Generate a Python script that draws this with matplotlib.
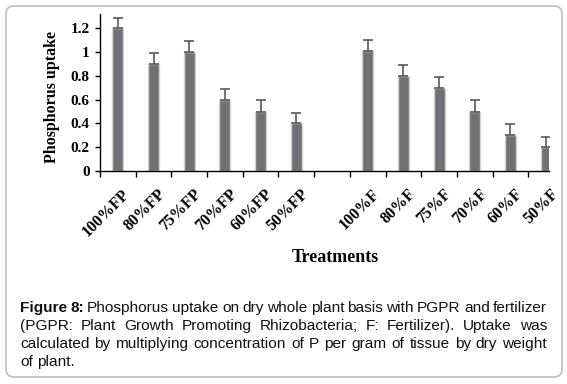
import numpy as np
import matplotlib.pyplot as plt
from matplotlib.patches import FancyBboxPatch
from matplotlib.transforms import ScaledTranslation

# values (bars + upper error bars)
fp_labels = ['100%FP', '80%FP', '75%FP', '70%FP', '60%FP', '50%FP']
fp_values = [1.2, 0.9, 1.0, 0.6, 0.5, 0.4]
fp_err = [0.09, 0.09, 0.09, 0.09, 0.095, 0.09]

f_labels = ['100%F', '80%F', '75%F', '70%F', '60%F', '50%F']
f_values = [1.01, 0.80, 0.70, 0.50, 0.30, 0.20]
f_err = [0.09, 0.09, 0.09, 0.10, 0.095, 0.09]

yticks = [0, 0.2, 0.4, 0.6, 0.8, 1.0, 1.2]
ytick_labels = ['0', '0.2', '0.4', '0.6', '0.8', '1', '1.2']

caption_lines = [
    "Phosphorus uptake on dry whole plant basis with PGPR and fertilizer",
    "(PGPR: Plant Growth Promoting Rhizobacteria; F: Fertilizer). Uptake was",
    "calculated by multiplying concentration of P per gram of tissue by dry weight",
    "of plant.",
]

W, H = 567, 384
fig = plt.figure(figsize=(W / 100, H / 100), dpi=100)
fig.patch.set_facecolor('white')

# rounded frame around the whole figure panel
frame = FancyBboxPatch((6, 7), 556, 371, boxstyle='round,pad=0,rounding_size=8',
                       transform=None, facecolor='none', edgecolor='#c4c4c4', linewidth=1.3)
fig.add_artist(frame)

ax = fig.add_axes([100 / W, 1 - 171 / H, 449 / W, 157 / H])

# FP group, one blank slot, then F group
labels = fp_labels + [''] + f_labels
values = fp_values + [np.nan] + f_values
errs = fp_err + [0] + f_err
x = np.arange(len(labels))

ax.bar(x, values, width=0.31, color='#717175', edgecolor='#d4d4d4', linewidth=1.0, zorder=2)
mask = ~np.isnan(values)
ax.errorbar(x[mask], np.array(values)[mask],
            yerr=[np.zeros(mask.sum()), np.array(errs)[mask]],
            fmt='none', ecolor='#595959', elinewidth=1.2, capsize=3.3, capthick=1.2, zorder=3)

ax.set_xlim(-0.5, 12.08)
ax.set_ylim(0, 1.32)

for s in ['top', 'right']:
    ax.spines[s].set_visible(False)
for s in ['left', 'bottom']:
    ax.spines[s].set_color('black')
    ax.spines[s].set_linewidth(1.0)

serif = 'Liberation Serif'
ax.set_yticks(yticks)
ax.set_yticklabels(ytick_labels, fontfamily=serif, fontweight='bold', fontsize=11)
ax.tick_params(axis='y', length=3.5, width=1, pad=4)

# ticks between categories, labels on category centres
ax.set_xticks(np.arange(-0.5, 12.5, 1.0))
ax.set_xticklabels([])
ax.tick_params(axis='x', which='major', length=4.5, width=1)
ax.set_xticks(x, minor=True)
ax.set_xticklabels(labels, minor=True, rotation=45, ha='right', va='top',
                   rotation_mode='anchor', fontfamily=serif, fontweight='bold', fontsize=11.5)
ax.tick_params(axis='x', which='minor', length=0, pad=11)
shift = ScaledTranslation(4 / 100, 0, fig.dpi_scale_trans)
for lbl in ax.get_xticklabels(minor=True):
    lbl.set_transform(lbl.get_transform() + shift)

fig.text(52 / W, 1 - 97 / H, 'Phosphorus uptake', rotation=90, ha='center', va='center',
         fontfamily=serif, fontweight='bold', fontsize=11.5)
fig.text(335 / W, 1 - 258 / H, 'Treatments', ha='center', va='center',
         fontfamily=serif, fontweight='bold', fontsize=13)

# justified caption, drawn word by word
sans = 'Liberation Sans'
left_px, right_px = 20, 547
line_base = [312, 330, 348, 366]
fig.canvas.draw()
renderer = fig.canvas.get_renderer()

# size the caption so the third line almost fills the width with plain spaces
probe = fig.text(0, 0, caption_lines[2], fontfamily=sans, fontsize=10)
cap_size = 10 * 521 / probe.get_window_extent(renderer).width
probe.remove()

for i, line in enumerate(caption_lines):
    words = [(w, 'normal') for w in line.split()]
    if i == 0:
        words = [('Figure', 'bold'), ('8:', 'bold')] + words
    texts = []
    for w, weight in words:
        t = fig.text(0, 1 - line_base[i] / H, w, fontfamily=sans, fontweight=weight,
                     fontsize=cap_size, ha='left', va='baseline', color='#111111')
        texts.append(t)
    widths = [t.get_window_extent(renderer).width for t in texts]
    if i < len(caption_lines) - 1 and len(texts) > 1:
        gap = (right_px - left_px - sum(widths)) / (len(texts) - 1)
    else:
        gap = cap_size * 100 / 72 * 0.28
    xpos = left_px
    for t, wd in zip(texts, widths):
        t.set_x(xpos / W)
        xpos += wd + gap

fig.savefig('out.png', dpi=100)
